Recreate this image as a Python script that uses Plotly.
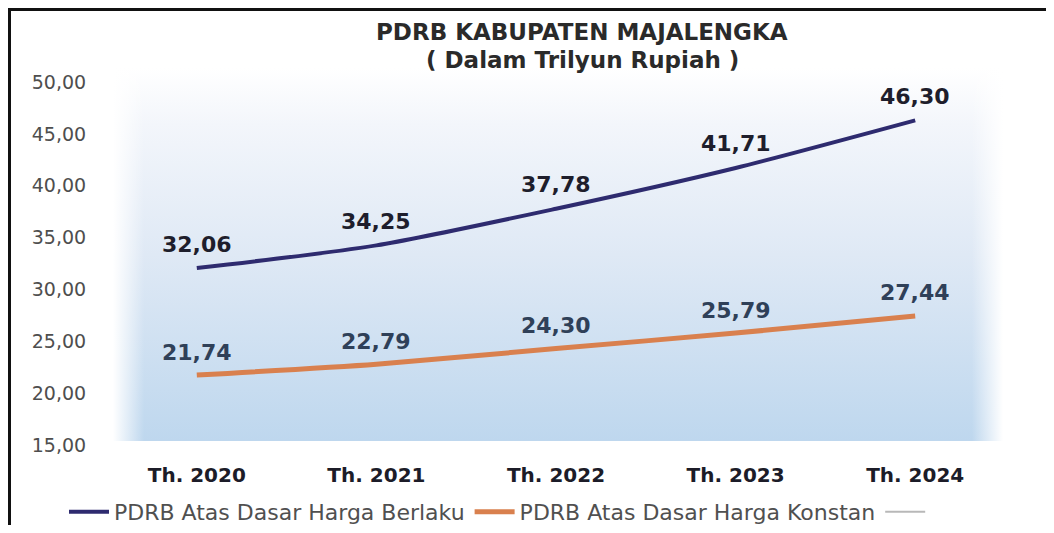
import base64
import plotly.graph_objects as go

# ---- data ----
years = ["Th. 2020", "Th. 2021", "Th. 2022", "Th. 2023", "Th. 2024"]
berlaku = [32.06, 34.25, 37.78, 41.71, 46.30]
konstan = [21.74, 22.79, 24.30, 25.79, 27.44]
berlaku_labels = ["32,06", "34,25", "37,78", "41,71", "46,30"]
konstan_labels = ["21,74", "22,79", "24,30", "25,79", "27,44"]
y_ticks = [15, 20, 25, 30, 35, 40, 45, 50]
y_tick_text = ["15,00", "20,00", "25,00", "30,00", "35,00", "40,00", "45,00", "50,00"]
series_names = ["PDRB Atas Dasar Harga Berlaku", "PDRB Atas Dasar Harga Konstan", " "]

# ---- layout geometry (page pixels; the page body has an 8px margin on every side) ----
OFF = 8
PAGE_W, PAGE_H = 1054, 533
W, H = PAGE_W - 2 * OFF, PAGE_H - 2 * OFF
L, R, T, B = 107, 1005, 82, 445  # plot area in page pixels


def px_x(p):
    return (p - L) / (R - L)


def px_y(p):
    return (B - p) / (B - T)


def cont_x(p):
    return (p - OFF) / W


def cont_y(p):
    return (H - (p - OFF)) / H


BLUE = "#2e2b6f"
ORANGE = "#d9804e"
GRAY_LINE = "#b8b8b8"

svg = (
    '<svg xmlns="http://www.w3.org/2000/svg" width="100" height="100" viewBox="0 0 100 100" preserveAspectRatio="none">'
    '<defs>'
    '<linearGradient id="g" x1="0" y1="0" x2="0" y2="1">'
    '<stop offset="0" stop-color="#ffffff"/>'
    '<stop offset="0.15" stop-color="#f3f6fb"/>'
    '<stop offset="0.5" stop-color="#dfe9f5"/>'
    '<stop offset="1" stop-color="#bed7ee"/>'
    '</linearGradient>'
    '<linearGradient id="h" x1="0" y1="0" x2="1" y2="0">'
    '<stop offset="0" stop-color="#ffffff" stop-opacity="1"/>'
    '<stop offset="0.035" stop-color="#ffffff" stop-opacity="0"/>'
    '<stop offset="0.965" stop-color="#ffffff" stop-opacity="0"/>'
    '<stop offset="1" stop-color="#ffffff" stop-opacity="1"/>'
    '</linearGradient>'
    '</defs>'
    '<rect x="0" y="0" width="100" height="100" fill="url(#g)"/>'
    '<rect x="0" y="0" width="100" height="100" fill="url(#h)"/>'
    '</svg>'
)
svg_uri = "data:image/svg+xml;base64," + base64.b64encode(svg.encode()).decode()

fig = go.Figure()
fig.add_trace(go.Scatter(
    x=years, y=berlaku, mode="lines", name=series_names[0],
    line=dict(color=BLUE, width=4, shape="spline", smoothing=0.7),
))
fig.add_trace(go.Scatter(
    x=years, y=konstan, mode="lines", name=series_names[1],
    line=dict(color=ORANGE, width=5, shape="spline", smoothing=0.7),
))
fig.add_trace(go.Scatter(
    x=[None], y=[None], mode="lines", name=series_names[2],
    line=dict(color=GRAY_LINE, width=2),
))

annotations = []
for xv, yv, t in zip(years, berlaku, berlaku_labels):
    annotations.append(dict(x=xv, y=yv, text=t, showarrow=False, yshift=24,
                            font=dict(family="DejaVu Sans", size=22, color="#1e1e2c", weight="bold")))
for xv, yv, t in zip(years, konstan, konstan_labels):
    annotations.append(dict(x=xv, y=yv, text=t, showarrow=False, yshift=23,
                            font=dict(family="DejaVu Sans", size=22, color="#2f4058", weight="bold")))

annotations.append(dict(xref="paper", yref="paper", x=px_x(582), y=px_y(32),
                        text="PDRB KABUPATEN MAJALENGKA", showarrow=False,
                        xanchor="center", yanchor="middle",
                        font=dict(family="DejaVu Sans", size=23, color="#2a2a2a", weight="bold")))
annotations.append(dict(xref="paper", yref="paper", x=px_x(582), y=px_y(60),
                        text="( Dalam Trilyun Rupiah )", showarrow=False,
                        xanchor="center", yanchor="middle",
                        font=dict(family="DejaVu Sans", size=23, color="#2a2a2a", weight="bold")))

fig.update_layout(
    width=W, height=H,
    margin=dict(l=L - OFF, r=(PAGE_W - OFF - R), t=T - OFF, b=(PAGE_H - OFF - B), pad=0),
    paper_bgcolor="white",
    plot_bgcolor="rgba(0,0,0,0)",
    separators=",.",
    showlegend=True,
    legend=dict(orientation="h",
                xref="container", x=cont_x(64), xanchor="left",
                yref="container", y=cont_y(512), yanchor="middle",
                font=dict(family="DejaVu Sans", size=22, color="#505050"),
                bgcolor="rgba(0,0,0,0)", itemwidth=40, tracegroupgap=0),
    annotations=annotations,
    images=[dict(source=svg_uri, xref="paper", yref="paper", x=px_x(113), y=px_y(68),
                 sizex=(1003 - 113) / (R - L), sizey=(441 - 68) / (B - T),
                 xanchor="left", yanchor="top", sizing="stretch", layer="below")],
    shapes=[dict(type="rect", xref="paper", yref="paper",
                 x0=px_x(OFF + 1.5), x1=px_x(1100), y0=px_y(OFF + 1.5), y1=px_y(560),
                 line=dict(color="#111111", width=3), fillcolor="rgba(0,0,0,0)", layer="above")],
    xaxis=dict(
        type="category", range=[-0.5, 4.5], automargin=False,
        showgrid=False, zeroline=False, showline=False,
        ticks="outside", ticklen=12, tickcolor="rgba(0,0,0,0)",
        tickfont=dict(family="DejaVu Sans", size=20, color="#1c1c28", weight="bold"),
    ),
    yaxis=dict(
        range=[15, 50], tickvals=y_ticks, ticktext=y_tick_text, automargin=False,
        showgrid=False, zeroline=False, showline=False,
        ticks="outside", ticklen=16, tickcolor="rgba(0,0,0,0)",
        tickfont=dict(family="DejaVu Sans", size=19, color="#4e4e4e"),
    ),
)

fig.write_html("out.html")
